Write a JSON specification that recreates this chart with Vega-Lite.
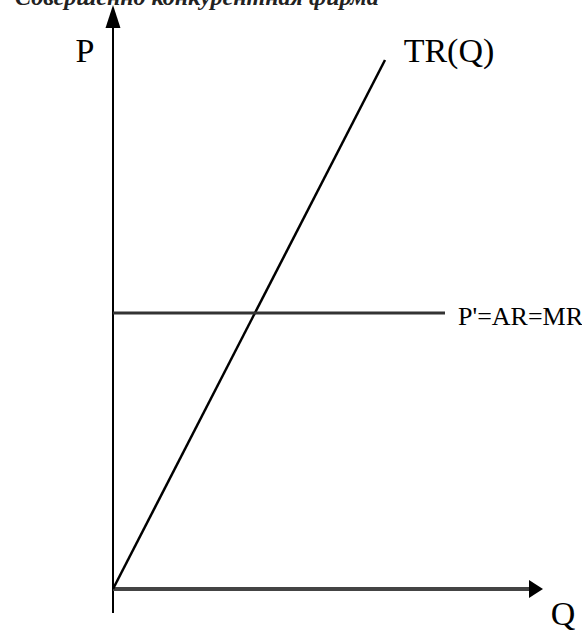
{
  "$schema": "https://vega.github.io/schema/vega-lite/v6.json",
  "width": 582,
  "height": 635,
  "autosize": {"type": "fit", "contains": "padding"},
  "padding": 0,
  "background": "white",
  "config": {"view": {"stroke": null}},
  "datasets": {
    "lines": [
      {"name": "P axis", "q": 0, "p": -24, "q2": 0, "p2": 572},
      {"name": "Q axis", "q": 0, "p": 0, "q2": 424, "p2": 0},
      {"name": "TR(Q)", "q": 0, "p": 0, "q2": 272, "p2": 529},
      {"name": "P'=AR=MR", "q": 0, "p": 276, "q2": 332, "p2": 276}
    ],
    "arrows": [
      {"axis": "P", "q": 0, "p": 572.5},
      {"axis": "Q", "q": 423, "p": 0}
    ],
    "labels": [
      {"kind": "main", "text": "P", "q": -28, "p": 527},
      {"kind": "main", "text": "TR(Q)", "q": 336, "p": 527},
      {"kind": "main", "text": "Q", "q": 450, "p": -36},
      {"kind": "line", "text": "P'=AR=MR", "q": 345, "p": 264},
      {"kind": "title", "text": "Совершенно конкурентная фирма", "q": -98, "p": 584}
    ]
  },
  "encoding": {
    "x": {"field": "q", "type": "quantitative", "scale": {"domain": [-113, 469], "nice": false, "zero": false}, "axis": null},
    "y": {"field": "p", "type": "quantitative", "scale": {"domain": [-46, 589], "nice": false, "zero": false}, "axis": null}
  },
  "layer": [
    {
      "data": {"name": "lines"},
      "transform": [{"filter": "datum.name === 'P axis'"}],
      "mark": {"type": "rule", "color": "black", "strokeWidth": 2},
      "encoding": {"x2": {"field": "q2"}, "y2": {"field": "p2"}}
    },
    {
      "data": {"name": "lines"},
      "transform": [{"filter": "datum.name === 'Q axis'"}],
      "mark": {"type": "rule", "color": "#444444", "strokeWidth": 4},
      "encoding": {"x2": {"field": "q2"}, "y2": {"field": "p2"}}
    },
    {
      "data": {"name": "lines"},
      "transform": [{"filter": "datum.name === 'TR(Q)'"}],
      "mark": {"type": "rule", "color": "black", "strokeWidth": 2.5},
      "encoding": {"x2": {"field": "q2"}, "y2": {"field": "p2"}}
    },
    {
      "data": {"name": "lines"},
      "transform": [{"filter": "datum.name === \"P'=AR=MR\""}],
      "mark": {"type": "rule", "color": "#333333", "strokeWidth": 3},
      "encoding": {"x2": {"field": "q2"}, "y2": {"field": "p2"}}
    },
    {
      "data": {"name": "arrows"},
      "transform": [{"filter": "datum.axis === 'P'"}],
      "mark": {"type": "point", "shape": "M0,-1L0.65,1L-0.65,1Z", "filled": true, "color": "black", "opacity": 1, "size": 529}
    },
    {
      "data": {"name": "arrows"},
      "transform": [{"filter": "datum.axis === 'Q'"}],
      "mark": {"type": "point", "shape": "M0.78,0L-0.78,-1L-0.78,1Z", "filled": true, "color": "black", "opacity": 1, "size": 324}
    },
    {
      "data": {"name": "labels"},
      "transform": [{"filter": "datum.kind === 'main'"}],
      "mark": {"type": "text", "font": "Liberation Serif", "fontSize": 34, "align": "center", "baseline": "alphabetic", "color": "black", "clip": true},
      "encoding": {"text": {"field": "text"}}
    },
    {
      "data": {"name": "labels"},
      "transform": [{"filter": "datum.kind === 'line'"}],
      "mark": {"type": "text", "font": "Liberation Serif", "fontSize": 26, "align": "left", "baseline": "alphabetic", "color": "black", "clip": true},
      "encoding": {"text": {"field": "text"}}
    },
    {
      "data": {"name": "labels"},
      "transform": [{"filter": "datum.kind === 'title'"}],
      "mark": {"type": "text", "font": "Liberation Serif", "fontSize": 24, "fontStyle": "italic", "fontWeight": "bold", "align": "left", "baseline": "alphabetic", "color": "#222222", "clip": true},
      "encoding": {"text": {"field": "text"}}
    }
  ]
}
